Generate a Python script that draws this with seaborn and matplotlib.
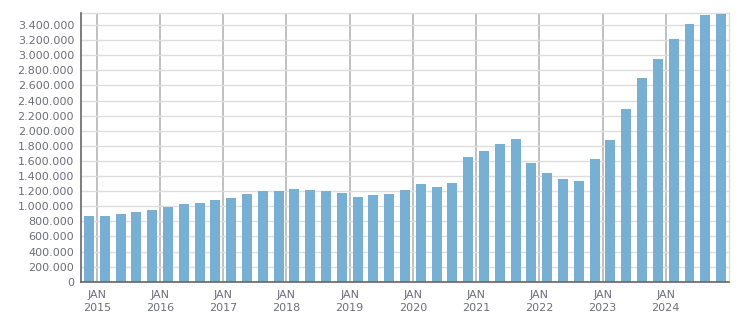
import matplotlib
matplotlib.use("Agg")
import matplotlib.pyplot as plt
import seaborn as sns
import pandas as pd
import numpy as np
from matplotlib.ticker import FuncFormatter, FixedLocator

# Quarterly values, Q4 2014 .. Q4 2024
quarters = [f"{y}Q{q}" for y in range(2014, 2025) for q in range(1, 5)][3:]
values = [870000, 870000, 897000, 923000, 950000, 989000, 1029000, 1042000,
          1082000, 1109000, 1162000, 1201000, 1201000, 1228000, 1215000,
          1201000, 1175000, 1122000, 1148000, 1162000, 1215000, 1294000,
          1254000, 1307000, 1652000, 1731000, 1824000, 1890000, 1572000,
          1440000, 1360000, 1334000, 1625000, 1877000, 2288000, 2698000,
          2950000, 3215000, 3413000, 3532000, 3545000]
years = [str(y) for y in range(2015, 2025)]
yticks = list(range(0, 3400001, 200000))

df = pd.DataFrame({"quarter": quarters, "value": values})

sns.set_style("white")
plt.rcParams["font.family"] = ["DejaVu Sans"]

fig = plt.figure(figsize=(7.51, 3.13), dpi=100)
ax = fig.add_axes([0.1079, 0.100, 0.8628, 0.8575])

sns.barplot(data=df, x="quarter", y="value", color="#77b0d3", saturation=1,
            width=0.63, linewidth=0, edgecolor="none", ax=ax, zorder=3)
for p in ax.patches:
    p.set_zorder(3)

txt = "#6d6d7d"
ax.set_xlim(-0.5, len(values) - 0.5)
ax.set_ylim(0, 3555000)
ax.set_xlabel("")
ax.set_ylabel("")

ax.set_yticks(yticks)
ax.yaxis.set_major_formatter(FuncFormatter(lambda v, p: f"{int(v):,}".replace(",", ".")))
major = [0.5 + 4 * i for i in range(len(years))]
ax.xaxis.set_major_locator(FixedLocator(major))
ax.set_xticklabels([f"JAN\n{y}" for y in years])
ax.xaxis.set_minor_locator(FixedLocator([i + 0.5 for i in range(-1, len(values))]))

ax.tick_params(axis="both", which="both", colors="#666666", labelcolor=txt,
               labelsize=8, length=4, width=1, direction="out")
ax.tick_params(axis="x", which="major", pad=2)
ax.tick_params(axis="y", pad=1)

ax.yaxis.grid(True, color="#dddddd", linewidth=1, zorder=0)
ax.xaxis.grid(True, which="major", color="#b5b5b5", linewidth=1.2, zorder=0)
for gl in ax.get_xgridlines() + ax.get_ygridlines():
    gl.set_zorder(0.5)

for s in ["left", "bottom"]:
    ax.spines[s].set_color("#666666")
    ax.spines[s].set_linewidth(1.2)
    ax.spines[s].set_zorder(4)
for s in ["top", "right"]:
    ax.spines[s].set_color("#dddddd")
    ax.spines[s].set_linewidth(1)

for lab in ax.get_xticklabels():
    lab.set_linespacing(1.35)

fig.savefig("out.png", dpi=100)
